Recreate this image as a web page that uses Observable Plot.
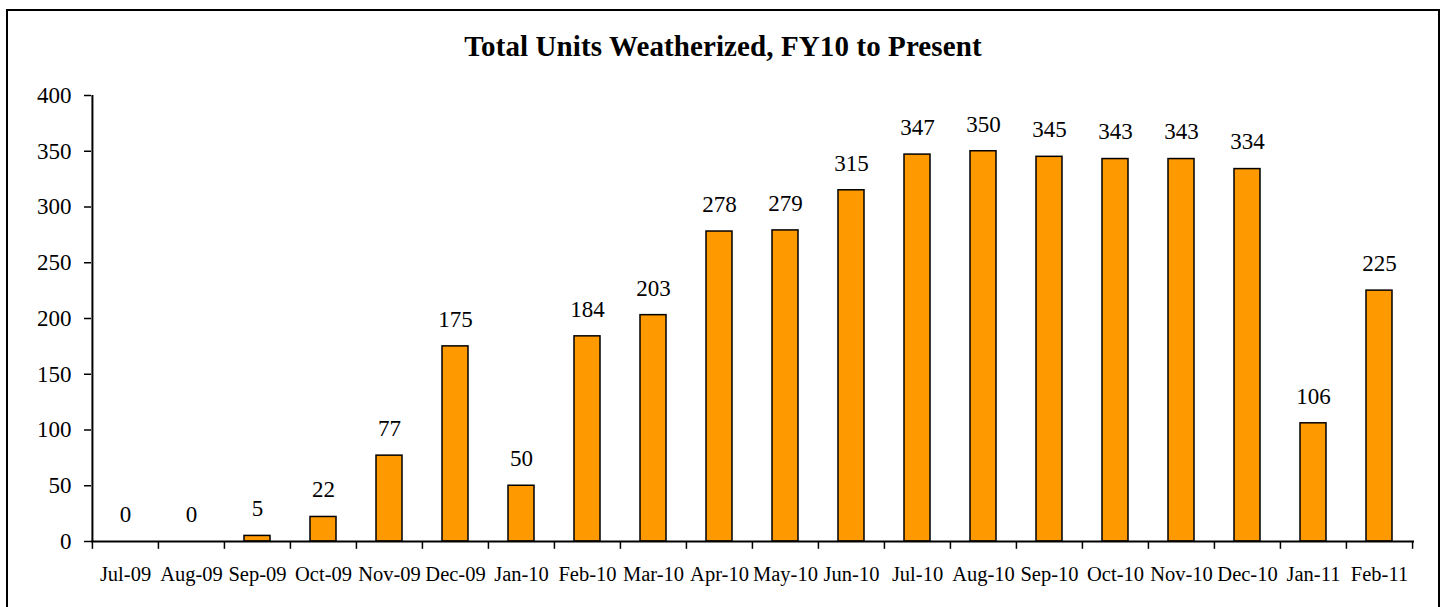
<!DOCTYPE html>
<html>
<head>
<meta charset="utf-8">
<script src="https://cdn.jsdelivr.net/npm/d3@7"></script>
<script src="https://cdn.jsdelivr.net/npm/@observablehq/plot@0.6"></script>
<style>
  html, body { margin: 0; padding: 0; background: #fff; }
  #wrap { position: relative; width: 1444px; height: 607px; overflow: hidden; }
  #frame { position: absolute; left: 6px; top: 9px; width: 1434px; height: 640px; border: 2px solid #000; box-sizing: border-box; pointer-events: none; }
  #title { position: absolute; left: 0; top: 32px; width: 1446px; text-align: center; font-family: "Liberation Serif", "Times New Roman", serif; font-weight: bold; font-size: 29px; line-height: 29px; letter-spacing: 0.1px; color: #000; }
  #chart { position: absolute; left: 0; top: 0; }
  #chart svg, #chart svg text { font-family: "Liberation Serif", "Times New Roman", serif !important; }
</style>
</head>
<body>
<div id="wrap">
  <div id="chart"></div>
  <div id="title">Total Units Weatherized, FY10 to Present</div>
  <div id="frame"></div>
</div>
<script>
const months = ["Jul-09","Aug-09","Sep-09","Oct-09","Nov-09","Dec-09","Jan-10","Feb-10","Mar-10","Apr-10","May-10","Jun-10","Jul-10","Aug-10","Sep-10","Oct-10","Nov-10","Dec-10","Jan-11","Feb-11"];
const units = [0,0,5,22,77,175,50,184,203,278,279,315,347,350,345,343,343,334,106,225];
const yTicks = [0,50,100,150,200,250,300,350,400];

const data = months.map((m, i) => ({month: m, value: units[i]}));

const W = 1444, H = 607, ML = 91, MR = 30, MT = 95, MB = 66;
const step = (W - ML - MR) / months.length;
const serif = "Liberation Serif";

const chart = Plot.plot({
  width: W,
  height: H,
  marginLeft: ML,
  marginRight: MR,
  marginTop: MT,
  marginBottom: MB,
  style: {fontFamily: serif, color: "#000", background: "transparent"},
  x: {domain: months, paddingInner: 0.6, paddingOuter: 0.3, axis: null},
  y: {domain: [0, 400], axis: null},
  marks: [
    Plot.axisY({ticks: yTicks, tickSize: 7, tickPadding: 13, fontSize: 23, fontFamily: serif, label: null, strokeWidth: 1.5}),
    Plot.axisX({tickSize: 0, tickPadding: 25, fontSize: 20.5, fontFamily: serif, label: null}),
    Plot.barY(data, {x: "month", y: "value", fill: "#FF9900", stroke: "#000", strokeWidth: 1.5}),
    Plot.text(data, {x: "month", y: "value", text: d => String(d.value), dy: -27, fontSize: 23, fontFamily: serif, fill: "#000"}),
    Plot.ruleX(months, {x: d => d, dx: -step / 2, y1: 0, y2: -7, strokeWidth: 1.5}),
    Plot.ruleX([months[months.length - 1]], {x: d => d, dx: step / 2, y1: 0, y2: -7, strokeWidth: 1.5}),
    Plot.ruleX([months[0]], {x: d => d, dx: -step / 2, y1: 0, y2: 400, strokeWidth: 2}),
    Plot.ruleY([0], {strokeWidth: 2})
  ]
});
document.getElementById("chart").appendChild(chart);
</script>
</body>
</html>
